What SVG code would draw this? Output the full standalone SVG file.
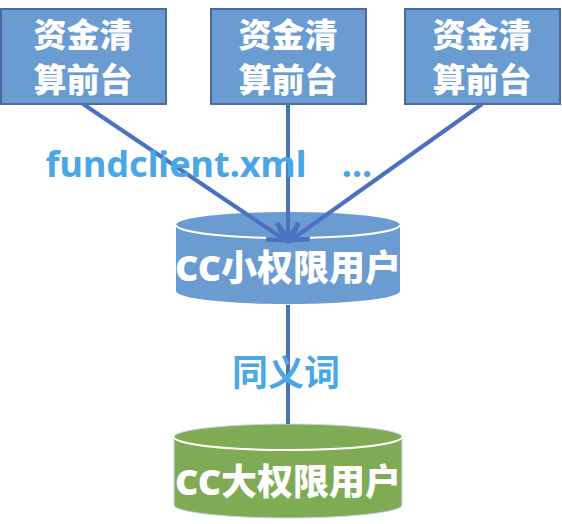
<svg xmlns="http://www.w3.org/2000/svg" width="562" height="524" viewBox="0 0 562 524">
<defs>
<style>
.box{fill:#6a9bd1;stroke:#4a6a99;stroke-width:2}
.bt{font-family:"Noto Sans CJK SC","Noto Sans",sans-serif;font-weight:900;font-size:33px;fill:#fff;text-anchor:middle}
.ct{font-family:"Noto Sans","Noto Sans CJK SC",sans-serif;font-weight:900;font-size:36px;fill:#fff;text-anchor:middle}
.lbl{font-family:"Noto Sans","Noto Sans CJK SC",sans-serif;font-weight:bold;font-size:36px;fill:#4aa7e6;text-anchor:middle}
.conn{stroke:#4a72c0;stroke-width:4;fill:none}
</style>
<marker id="ah" markerWidth="6" markerHeight="6" refX="4.5" refY="3" orient="auto" markerUnits="strokeWidth">
<path d="M0.5,0.5 L4.5,3 L0.5,5.5" fill="none" stroke="#4a72c0" stroke-width="1.2"/>
</marker>
</defs>
<g id="box1"><rect class="box" x="1" y="9" width="165" height="95"/><text class="bt" x="83" y="47">资金清</text><text class="bt" x="83" y="92">算前台</text></g>
<g id="box2"><rect class="box" x="211" y="9" width="155" height="95"/><text class="bt" x="288" y="47">资金清</text><text class="bt" x="288" y="92">算前台</text></g>
<g id="box3"><rect class="box" x="405" y="9" width="155" height="95"/><text class="bt" x="482" y="47">资金清</text><text class="bt" x="482" y="92">算前台</text></g>
<g id="cyl1">
<path d="M176,225 L176,291 A112,13 0 0 0 400,291 L400,225 Z" fill="#6a9bd1"/>
<ellipse cx="288" cy="225" rx="112" ry="13" fill="#6a9bd1"/>
<path d="M176,225 A112,13 0 0 0 400,225" fill="none" stroke="#fff" stroke-width="2"/>
<text class="ct" x="288" y="281">CC小权限用户</text>
</g>
<g id="cyl2">
<path d="M174,437 L174,505 A114,13 0 0 0 402,505 L402,437 Z" fill="#7fab55" stroke="#c8d8ee" stroke-width="1"/>
<ellipse cx="288" cy="437" rx="114" ry="13" fill="#7fab55" stroke="#c8d8ee" stroke-width="1"/>
<path d="M174,437 A114,13 0 0 0 402,437" fill="none" stroke="#fff" stroke-width="2"/>
<text class="ct" x="288" y="495">CC大权限用户</text>
</g>
<g id="connectors">
<line class="conn" x1="83" y1="104" x2="285" y2="240" marker-end="url(#ah)"/>
<line class="conn" x1="288" y1="104" x2="288" y2="240" marker-end="url(#ah)"/>
<line class="conn" x1="482" y1="104" x2="291" y2="240" marker-end="url(#ah)"/>
<line class="conn" x1="288" y1="305" x2="288" y2="424"/>
</g>
<text class="lbl" x="176" y="177">fundclient.xml</text>
<text class="lbl" x="357" y="177">...</text>
<text class="lbl" x="286" y="386">同义词</text>
</svg>
